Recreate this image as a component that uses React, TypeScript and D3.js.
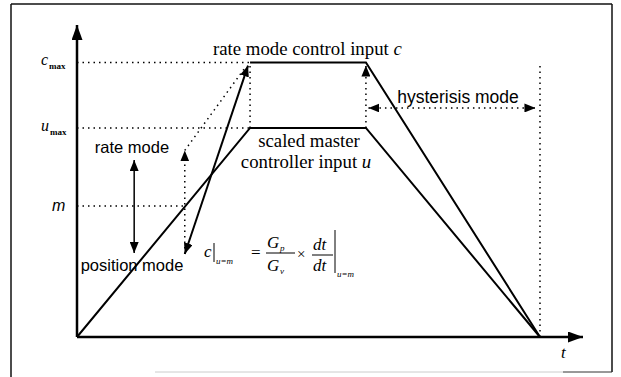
import { useEffect, useRef } from "react";
import * as d3 from "d3";

// curve values (time 0..100, value 0..100)
const uPoints: [number, number][] = [[0, 0], [34.2, 67], [57.1, 67], [91.5, 0]];
const cPlateau: [number, number][] = [[34.2, 88], [57.1, 88], [91.5, 0]];
const cRamp: [number, number][] = [[21.3, 26.6], [33.8, 87]];

const levels = [
  { name: "c", sub: "max", v: 88, xEnd: 34.2 },
  { name: "u", sub: "max", v: 67, xEnd: 34.2 },
  { name: "m", sub: "", v: 42, xEnd: 21.3 },
];

// dotted guide lines
const dottedGuides: { pts: [number, number][]; start?: boolean; end?: boolean }[] = [
  { pts: [[34.2, 67], [34.2, 88]] },
  { pts: [[57.1, 67], [57.1, 87]], end: true },
  { pts: [[21.3, 59.8], [33.3, 86.5]] },
  { pts: [[21.3, 26.6], [21.3, 59.8]], end: true },
  { pts: [[91.5, 0], [91.5, 88]] },
  { pts: [[57.6, 73.4], [90.6, 73.4]], start: true, end: true },
];

const modeArrow: [number, number][] = [[11.3, 56.7], [11.3, 26.9]];

const App = () => {
  const svgRef = useRef<SVGSVGElement>(null);

  useEffect(() => {
    const W = 621;
    const H = 377;
    const x = d3.scaleLinear().domain([0, 100]).range([77, 583]);
    const y = d3.scaleLinear().domain([0, 100]).range([337, 25]);

    const svg = d3.select(svgRef.current).attr("width", W).attr("height", H);
    svg.selectAll("*").remove();

    const defs = svg.append("defs");
    const mk = (id: string, len: number, wid: number) =>
      defs
        .append("marker")
        .attr("id", id)
        .attr("markerUnits", "userSpaceOnUse")
        .attr("viewBox", `0 0 ${len} ${wid}`)
        .attr("refX", len)
        .attr("refY", wid / 2)
        .attr("markerWidth", len)
        .attr("markerHeight", wid)
        .attr("orient", "auto-start-reverse")
        .append("path")
        .attr("d", `M0,0L${len},${wid / 2}L0,${wid}Z`)
        .attr("fill", "#000");
    mk("big", 15, 11);
    mk("mid", 11, 9);

    // frame
    svg.append("line").attr("x1", 11).attr("x2", 11).attr("y1", 4).attr("y2", 377).attr("stroke", "#111").attr("stroke-width", 1.5);
    svg.append("line").attr("x1", 11).attr("x2", 612).attr("y1", 4).attr("y2", 4).attr("stroke", "#111").attr("stroke-width", 1.5);
    svg.append("line").attr("x1", 612).attr("x2", 612).attr("y1", 4).attr("y2", 372).attr("stroke", "#111").attr("stroke-width", 1.5);
    svg.append("line").attr("x1", 155).attr("x2", 563).attr("y1", 372).attr("y2", 372).attr("stroke", "#ccc").attr("stroke-width", 1);
    svg.append("line").attr("x1", 563).attr("x2", 612).attr("y1", 372).attr("y2", 372).attr("stroke", "#333").attr("stroke-width", 1);

    const line = d3.line<[number, number]>().x((d) => x(d[0])).y((d) => y(d[1]));

    // axes
    svg.append("path").attr("d", line([[0, 0], [0, 100]])).attr("stroke", "#000").attr("stroke-width", 2.5).attr("marker-end", "url(#big)");
    svg.append("path").attr("d", line([[0, 0], [100, 0]])).attr("stroke", "#000").attr("stroke-width", 2.5).attr("marker-end", "url(#big)");

    // dotted levels
    svg
      .selectAll(".lvl")
      .data(levels)
      .enter()
      .append("path")
      .attr("d", (d) => line([[0, d.v], [d.xEnd, d.v]]))
      .attr("stroke", "#000")
      .attr("stroke-width", 1.5)
      .attr("stroke-dasharray", "1.5,4");

    svg
      .selectAll(".guide")
      .data(dottedGuides)
      .enter()
      .append("path")
      .attr("d", (d) => line(d.pts))
      .attr("fill", "none")
      .attr("stroke", "#000")
      .attr("stroke-width", 1.5)
      .attr("stroke-dasharray", "1.5,4")
      .attr("marker-start", (d) => (d.start ? "url(#mid)" : null))
      .attr("marker-end", (d) => (d.end ? "url(#mid)" : null));

    // curves
    svg.append("path").attr("d", line(uPoints)).attr("fill", "none").attr("stroke", "#000").attr("stroke-width", 2);
    svg.append("path").attr("d", line(cPlateau)).attr("fill", "none").attr("stroke", "#000").attr("stroke-width", 2);
    svg
      .append("path")
      .attr("d", line(cRamp))
      .attr("stroke", "#000")
      .attr("stroke-width", 2)
      .attr("marker-start", "url(#mid)")
      .attr("marker-end", "url(#mid)");

    svg
      .append("path")
      .attr("d", line(modeArrow))
      .attr("stroke", "#000")
      .attr("stroke-width", 1.5)
      .attr("marker-start", "url(#mid)")
      .attr("marker-end", "url(#mid)");

    const serif = "Liberation Serif";
    const sans = "Liberation Sans";

    // level labels
    const lab = svg
      .selectAll(".lab")
      .data(levels)
      .enter()
      .append("text")
      .attr("x", (d) => (d.sub ? 41 : 52))
      .attr("y", (d) => y(d.v) + (d.sub ? 3 : 5))
      .attr("font-family", (d) => (d.sub ? serif : sans))
      .attr("font-style", "italic")
      .attr("font-size", 16);
    lab.append("tspan").text((d) => d.name);
    lab
      .append("tspan")
      .attr("dx", 1)
      .attr("dy", 4)
      .attr("font-size", 9)
      .attr("font-style", "normal")
      .attr("font-weight", "bold")
      .text((d) => d.sub);

    const txt = (s: string, tx: number, ty: number, fam: string, size: number, anchor = "start") =>
      svg
        .append("text")
        .attr("x", tx)
        .attr("y", ty)
        .attr("font-family", fam)
        .attr("font-size", size)
        .attr("text-anchor", anchor)
        .text(s);

    const t1 = txt("rate mode control input ", 213, 55, serif, 18.8);
    t1.append("tspan").attr("font-style", "italic").text("c");
    txt("scaled master", 309, 147, serif, 18.8, "middle");
    const t2 = txt("controller input ", 306, 168, serif, 18.8, "middle");
    t2.append("tspan").attr("font-style", "italic").text("u");

    txt("hysterisis mode", 458, 103, sans, 17.5, "middle");
    txt("rate mode", 132, 153, sans, 16.5, "middle");
    txt("position mode", 132, 271, sans, 16.5, "middle");
    txt("t", 561, 358, serif, 17).attr("font-style", "italic");

    // formula
    const f = svg.append("g").attr("font-family", serif).attr("font-style", "italic");
    f.append("text").attr("x", 204).attr("y", 257).attr("font-size", 17).text("c");
    f.append("line").attr("x1", 214).attr("x2", 214).attr("y1", 243).attr("y2", 262).attr("stroke", "#000").attr("stroke-width", 1);
    f.append("text").attr("x", 216).attr("y", 264).attr("font-size", 9).text("u=m");
    f.append("text").attr("x", 251).attr("y", 258).attr("font-size", 17).attr("font-style", "normal").text("=");
    f.append("text").attr("x", 267).attr("y", 248).attr("font-size", 17).text("G");
    f.append("text").attr("x", 280).attr("y", 251).attr("font-size", 9).text("p");
    f.append("line").attr("x1", 266).attr("x2", 295).attr("y1", 253).attr("y2", 253).attr("stroke", "#000").attr("stroke-width", 1);
    f.append("text").attr("x", 267).attr("y", 271).attr("font-size", 17).text("G");
    f.append("text").attr("x", 280).attr("y", 274).attr("font-size", 9).text("v");
    f.append("text").attr("x", 297).attr("y", 259).attr("font-size", 15).attr("font-style", "normal").text("×");
    f.append("text").attr("x", 313).attr("y", 250).attr("font-size", 17).text("dt");
    f.append("line").attr("x1", 312).attr("x2", 333).attr("y1", 255).attr("y2", 255).attr("stroke", "#000").attr("stroke-width", 1);
    f.append("text").attr("x", 313).attr("y", 271).attr("font-size", 17).text("dt");
    f.append("line").attr("x1", 335).attr("x2", 335).attr("y1", 230).attr("y2", 273).attr("stroke", "#000").attr("stroke-width", 1);
    f.append("text").attr("x", 337).attr("y", 277).attr("font-size", 9).text("u=m");
  }, []);

  return <svg ref={svgRef} style={{ position: "absolute", left: 0, top: 0 }} />;
};

export default App;
